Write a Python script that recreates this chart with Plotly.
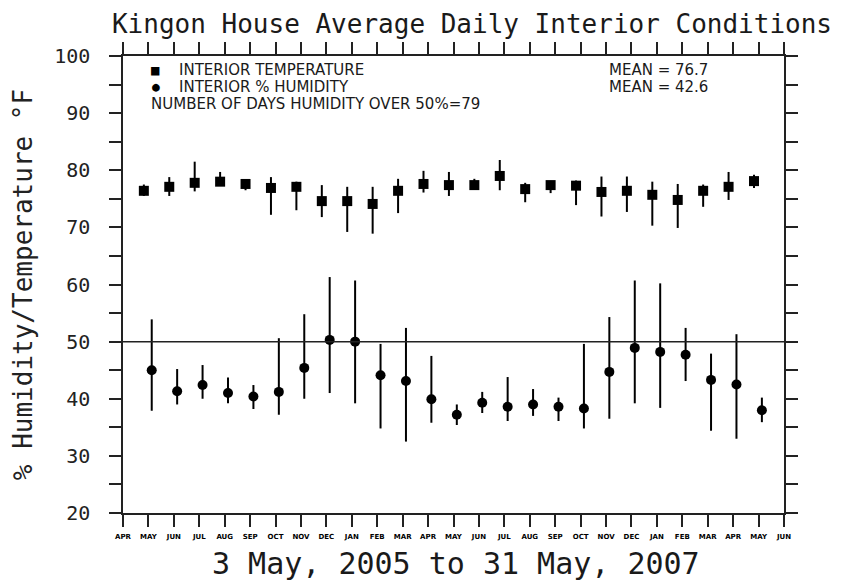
import plotly.graph_objects as go

# ---- data ----
month_labels = ["APR", "MAY", "JUN", "JUL", "AUG", "SEP", "OCT", "NOV", "DEC", "JAN", "FEB", "MAR", "APR",
                "MAY", "JUN", "JUL", "AUG", "SEP", "OCT", "NOV", "DEC", "JAN", "FEB", "MAR", "APR", "MAY", "JUN"]
# months with data: MAY 2005 (index 1) .. MAY 2007 (index 25)
data_months = list(range(1, 26))

temp_mean = [76.4, 77.1, 77.8, 78.0, 77.6, 76.9, 77.1, 74.6, 74.6, 74.1, 76.4, 77.6, 77.4,
             77.4, 79.0, 76.7, 77.4, 77.3, 76.2, 76.4, 75.7, 74.8, 76.4, 77.1, 78.1]
temp_high = [77.5, 78.8, 81.5, 79.7, 78.3, 78.8, 78.0, 77.4, 77.1, 77.1, 78.5, 79.9, 79.7,
             78.5, 81.8, 77.8, 78.0, 78.2, 78.9, 78.9, 78.0, 77.6, 77.5, 79.7, 79.2]
temp_low = [75.5, 75.5, 76.3, 77.5, 76.5, 72.2, 73.0, 71.8, 69.2, 68.9, 72.5, 76.1, 75.5,
            76.6, 76.5, 74.4, 76.0, 73.9, 71.9, 72.7, 70.3, 69.9, 73.6, 74.8, 76.9]

hum_mean = [45.0, 41.3, 42.4, 41.0, 40.4, 41.2, 45.4, 50.3, 50.0, 44.1, 43.1, 39.9, 37.2,
            39.3, 38.6, 39.0, 38.6, 38.3, 44.7, 48.9, 48.2, 47.7, 43.3, 42.5, 38.0]
hum_high = [53.9, 45.2, 45.9, 43.7, 42.4, 50.6, 54.8, 61.3, 60.7, 49.6, 52.4, 47.5, 39.0,
            41.2, 43.8, 41.7, 40.2, 49.6, 54.3, 60.7, 60.2, 52.4, 47.9, 51.3, 40.2]
hum_low = [37.9, 39.0, 40.0, 39.2, 38.2, 37.2, 40.0, 41.0, 39.2, 34.8, 32.5, 35.8, 35.4,
           37.5, 36.1, 37.0, 36.1, 34.8, 36.5, 39.2, 38.4, 43.1, 34.4, 33.0, 35.9]

temp_overall_mean = 76.7
hum_overall_mean = 42.6
days_over_50 = 79
humidity_threshold = 50

y_tick_vals = list(range(20, 101, 5))
y_tick_text = [str(v) if v % 10 == 0 else "" for v in y_tick_vals]

# ---- styling ----
MONO = "DejaVu Sans Mono"
SANS = "DejaVu Sans"
TXT = "#1a1a1a"
temp_offset = -0.18
hum_offset = 0.13

temp_x = [m + temp_offset for m in data_months]
hum_x = [m + hum_offset for m in data_months]

fig = go.Figure()
fig.add_trace(go.Scatter(
    x=temp_x, y=temp_mean, mode="markers",
    marker=dict(symbol="square", size=10, color="black"),
    error_y=dict(type="data", symmetric=False,
                 array=[h - m for h, m in zip(temp_high, temp_mean)],
                 arrayminus=[m - l for m, l in zip(temp_mean, temp_low)],
                 color="black", thickness=2, width=0),
    showlegend=False))
fig.add_trace(go.Scatter(
    x=hum_x, y=hum_mean, mode="markers",
    marker=dict(symbol="circle", size=10, color="black"),
    error_y=dict(type="data", symmetric=False,
                 array=[h - m for h, m in zip(hum_high, hum_mean)],
                 arrayminus=[m - l for m, l in zip(hum_mean, hum_low)],
                 color="black", thickness=2, width=0),
    showlegend=False))

fig.add_shape(type="line", xref="paper", x0=0, x1=1, yref="y",
              y0=humidity_threshold, y1=humidity_threshold,
              line=dict(color="#222", width=1.5))

# page is offset by the browser's 8px body margin
OFF = 8
FW, FH = 849 - OFF, 584 - OFF
PW, PH = 664, 457
L = 120 - OFF
T = 56 - OFF
B = FH - T - PH

def px(x):
    return (x - OFF - L) / PW
def py(y):
    return (T + PH - (y - OFF)) / PH

leg_font = dict(family=SANS, size=15, color=TXT)
annots = [
    dict(text="■", x=px(153), y=py(70), xanchor="center", font=dict(family=MONO, size=14, color="black")),
    dict(text="●", x=px(153), y=py(87), xanchor="center", font=dict(family=MONO, size=13, color="black")),
    dict(text="INTERIOR TEMPERATURE", x=px(174), y=py(70), xanchor="left", font=leg_font),
    dict(text="INTERIOR % HUMIDITY", x=px(174), y=py(87), xanchor="left", font=leg_font),
    dict(text=f"NUMBER OF DAYS HUMIDITY OVER {humidity_threshold}%={days_over_50}",
         x=px(146), y=py(104), xanchor="left", font=leg_font),
    dict(text=f"MEAN = {temp_overall_mean}", x=px(606), y=py(70), xanchor="left", font=leg_font),
    dict(text=f"MEAN = {hum_overall_mean}", x=px(606), y=py(87), xanchor="left", font=leg_font),
    dict(text="3 May, 2005 to 31 May, 2007", x=px(455), y=py(563), xanchor="center",
         font=dict(family=MONO, size=30, color=TXT)),
]
for a in annots:
    a.update(xref="paper", yref="paper", yanchor="middle", showarrow=False)

fig.update_layout(
    width=FW, height=FH,
    margin=dict(l=L, r=FW - L - PW, t=T, b=B),
    paper_bgcolor="white", plot_bgcolor="white",
    title=dict(text="Kingon House Average Daily Interior Conditions",
               x=(472 - OFF) / FW, xanchor="center", y=1 - (24 - OFF) / FH, yanchor="middle",
               font=dict(family=MONO, size=26, color=TXT)),
    annotations=annots,
    xaxis=dict(range=[0, len(month_labels) - 1], tickmode="array",
               tickvals=list(range(len(month_labels))), ticktext=month_labels,
               ticks="outside", ticklen=12, tickwidth=1.5, tickcolor="#222",
               mirror="allticks", showline=True, linecolor="#222", linewidth=1.5,
               showgrid=False, zeroline=False,
               tickfont=dict(family=SANS, size=7, color="black", weight="bold"),
               ticklabelstandoff=4),
    yaxis=dict(range=[20, 100], tickmode="array", tickvals=y_tick_vals, ticktext=y_tick_text,
               ticks="outside", ticklen=12, tickwidth=1.5, tickcolor="#222",
               mirror="allticks", showline=True, linecolor="#222", linewidth=1.5,
               showgrid=False, zeroline=False,
               tickfont=dict(family=MONO, size=20, color="#222"),
               ticklabelstandoff=15,
               title=dict(text="% Humidity/Temperature °F", standoff=16,
                          font=dict(family=MONO, size=26, color="#222"))),
)

fig.write_html("out.html")
